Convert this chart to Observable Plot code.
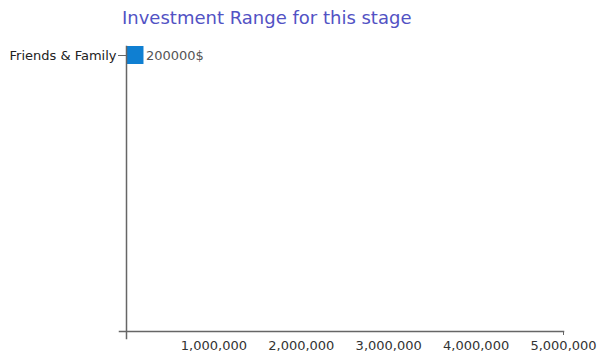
<!DOCTYPE html>
<html>
<head>
<meta charset="utf-8">
<script src="https://cdn.jsdelivr.net/npm/d3@7"></script>
<script src="https://cdn.jsdelivr.net/npm/@observablehq/plot@0.6"></script>
<style>
  html, body { margin: 0; padding: 0; background: #fff; }
  #title { height: 36px; line-height: 36px; padding-left: 122px; font-family: "DejaVu Sans", sans-serif; font-size: 18px; color: #5252c4; white-space: nowrap; }
</style>
</head>
<body>
<div id="title">Investment Range for this stage</div>
<div id="chart"></div>
<script>
const stages = ["Friends & Family"];
const amounts = [200000];
const valueLabels = ["200000$"];
const xTicks = [1000000, 2000000, 3000000, 4000000, 5000000];

const data = stages.map((s, i) => ({stage: s, amount: amounts[i], label: valueLabels[i]}));

const chart = Plot.plot({
  width: 597,
  height: 320,
  marginLeft: 126,
  marginRight: 34,
  marginTop: 10,
  marginBottom: 25,
  style: {fontFamily: "DejaVu Sans, sans-serif", fontSize: "13px", background: "#fff"},
  x: {domain: [0, 5000000], label: null},
  y: {domain: stages, range: [10, 28], padding: 0, label: null},
  marks: [
    Plot.barX(data, {x: "amount", y: "stage", fill: "#0f7fd2"}),
    Plot.text(data, {x: "amount", y: "stage", text: "label", textAnchor: "start", dx: 2, fill: "#555", fontSize: 13}),
    Plot.frame({anchor: "left", insetBottom: -7, stroke: "#666", strokeWidth: 1.5}),
    Plot.frame({anchor: "bottom", insetLeft: -7, stroke: "#666", strokeWidth: 1.5}),
    Plot.axisX({ticks: [5000000], tickSize: 4, text: null, stroke: "#666", label: null}),
    Plot.axisX({ticks: xTicks, tickSize: 0, tickPadding: 9, tickFormat: d3.format(","), fill: "#333", label: null}),
    Plot.axisY({tickSize: 8, tickPadding: 2, fill: "#222", stroke: "#666", label: null})
  ]
});
document.getElementById("chart").appendChild(chart);
</script>
</body>
</html>
